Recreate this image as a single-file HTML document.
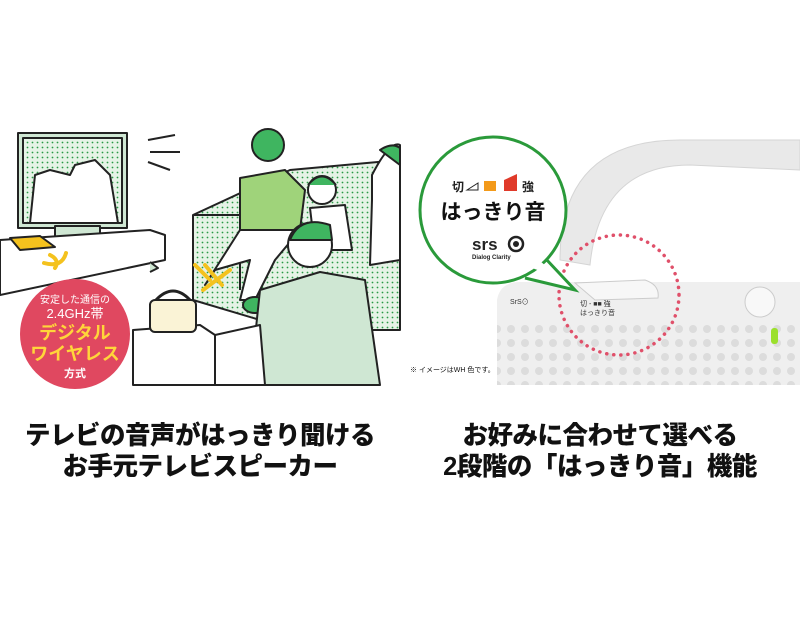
<!DOCTYPE html>
<html><head><meta charset="utf-8"><style>
body{margin:0;width:800px;height:618px;background:#fff;overflow:hidden;font-family:"Liberation Sans","Noto Sans CJK JP",sans-serif}
svg{position:absolute;left:0;top:0}
.t{position:absolute;width:400px;text-align:center;font-weight:900;font-size:25.5px;color:#111;line-height:31px;letter-spacing:-0.5px}
</style></head><body>
<svg width="800" height="618" viewBox="0 0 800 618">
<defs>
<pattern id="dots" width="5" height="5" patternUnits="userSpaceOnUse"><rect width="5" height="5" fill="#e6f3e6"/><circle cx="2.5" cy="2.5" r="0.9" fill="#2a9a45"/></pattern>
<pattern id="holes" width="14" height="14" patternUnits="userSpaceOnUse"><circle cx="7" cy="7" r="4" fill="#dcdcdc"/></pattern>
</defs>
<g stroke="#222" stroke-width="2" stroke-linejoin="round">
<path d="M193 215 L290 170 L400 160 L400 330 L330 330 L260 320 L193 300 Z" fill="url(#dots)"/>
<path d="M193 215 L240 215 L240 290" fill="none"/>
<rect x="18" y="133" width="109" height="95" fill="#cfe7d3"/>
<rect x="23" y="138" width="99" height="85" fill="url(#dots)"/>
<path d="M30 223 L35 175 L50 170 L70 175 L75 165 L95 160 L110 175 L118 223 Z" fill="#fff"/>
<rect x="55" y="226" width="45" height="12" fill="#cfe7d3"/>
<path d="M0 240 L150 230 L165 235 L165 260 L0 295 Z" fill="#fff"/>
<path d="M10 238 L40 236 L55 247 L20 250 Z" fill="#f4c21e"/>
<path d="M150 262 L158 268 L150 272" fill="#cfe7d3"/>
<path d="M133 330 L200 325 L215 335 L215 385 L133 385 Z" fill="#fff"/>
<rect x="150" y="300" width="46" height="32" rx="5" fill="#faf3d6"/>
<path d="M156 300 Q173 282 190 300" fill="none" stroke-width="3"/>
<circle cx="268" cy="145" r="16" fill="#3fb560"/>
<path d="M240 178 L285 170 L305 190 L300 230 L240 230 Z" fill="#9fd37a"/>
<path d="M240 230 L300 230 L275 260 L255 300 L240 300 L250 260 L215 270 L205 285 Z" fill="#fff"/>
<ellipse cx="255" cy="305" rx="12" ry="8" fill="#3fb560"/>
<circle cx="322" cy="190" r="14" fill="#fff"/>
<path d="M308 185 Q322 168 336 185" fill="#3fb560"/>
<path d="M310 208 L345 205 L352 250 L315 250 Z" fill="#fff"/>
<path d="M372 175 Q390 140 400 145 L400 260 L370 265 L372 200 Z" fill="#fff"/>
<path d="M380 150 Q392 142 400 148 L400 165 Z" fill="#3fb560"/>
<circle cx="310" cy="245" r="22" fill="#fff"/>
<path d="M290 240 Q300 215 330 225 L332 240 Z" fill="#3fb560"/>
<path d="M260 290 L320 272 L365 280 L380 385 L250 385 Z" fill="#cfe7d3"/>
<path d="M215 335 L260 325 L265 385 L215 385 Z" fill="#fff"/>
</g>
<g stroke="#f4c21e" stroke-width="4" fill="none" stroke-linecap="round">
<path d="M50 255 Q60 260 55 268"/><path d="M44 263 Q62 268 66 253"/>
<path d="M195 265 L210 280"/><path d="M205 265 L222 285"/><path d="M203 290 L230 270"/>
</g>
<g stroke="#222" stroke-width="2"><line x1="148" y1="140" x2="175" y2="135"/><line x1="150" y1="152" x2="180" y2="152"/><line x1="148" y1="162" x2="170" y2="170"/></g>
<circle cx="75" cy="334" r="55" fill="#e04860"/>
<text x="75" y="303" font-size="10" fill="#fff" text-anchor="middle">安定した通信の</text>
<text x="75" y="318" font-size="13" fill="#fff" text-anchor="middle">2.4GHz帯</text>
<text x="75" y="339" font-size="18" font-weight="bold" fill="#ffd63a" text-anchor="middle">デジタル</text>
<text x="75" y="360" font-size="18" font-weight="bold" fill="#ffd63a" text-anchor="middle">ワイヤレス</text>
<text x="75" y="377" font-size="11" font-weight="bold" fill="#fff" text-anchor="middle">方式</text>
<path d="M560 260 Q560 140 680 140 L800 140 L800 170 L690 165 Q600 165 590 265 Z" fill="#e9e9e9" stroke="#d5d5d5"/>
<path d="M497 300 Q500 282 520 282 L800 282 L800 385 L497 385 Z" fill="#efefef"/>
<rect x="497" y="320" width="303" height="65" fill="url(#holes)"/>
<path d="M575 283 L645 280 Q660 285 658 298 L595 300 Z" fill="#f7f7f7" stroke="#ccc"/>
<circle cx="760" cy="302" r="15" fill="#f8f8f8" stroke="#ccc"/>
<rect x="771" y="328" width="7" height="16" rx="3" fill="#9be02c"/>
<text x="510" y="304" font-size="7" fill="#333">SrS⊙</text>
<text x="580" y="306" font-size="7" fill="#333">切 - ■■ 強</text>
<text x="580" y="315" font-size="7" fill="#333">はっきり音</text>
<circle cx="619" cy="295" r="60" fill="none" stroke="#e0506a" stroke-width="3.5" stroke-dasharray="0.1 7" stroke-linecap="round"/>
<path d="M545 258 L575 290 L525 278" fill="#fff" stroke="#2a9a3a" stroke-width="3"/>
<circle cx="493" cy="210" r="73" fill="#fff" stroke="#2a9a3a" stroke-width="3"/>
<path d="M540 261 L560 278 L532 268 Z" fill="#fff"/>
<text x="452" y="191" font-size="12" font-weight="bold" fill="#222">切</text>
<path d="M467 190 L478 183 L478 190 Z" fill="none" stroke="#222"/>
<rect x="484" y="181" width="12" height="10" fill="#f39a1a"/>
<path d="M504 191 L517 191 L517 174 L504 180 Z" fill="#e03a2a"/>
<text x="522" y="191" font-size="12" font-weight="bold" fill="#222">強</text>
<text x="493" y="219" font-size="21" font-weight="bold" fill="#111" text-anchor="middle">はっきり音</text>
<text x="472" y="250" font-size="17" font-weight="bold" fill="#222">srs</text>
<circle cx="516" cy="244" r="7" fill="none" stroke="#222" stroke-width="2.5"/><circle cx="516" cy="244" r="3" fill="#222"/>
<text x="472" y="259" font-size="6" font-weight="bold" fill="#222">Dialog Clarity</text>
<text x="410" y="372" font-size="7" fill="#111">※ イメージはWH 色です。</text>
</svg>
<div class="t" style="left:0;top:421px">テレビの音声がはっきり聞ける<br>お手元テレビスピーカー</div>
<div class="t" style="left:400px;top:421px">お好みに合わせて選べる<br>2段階の「はっきり音」機能</div>
</body></html>
